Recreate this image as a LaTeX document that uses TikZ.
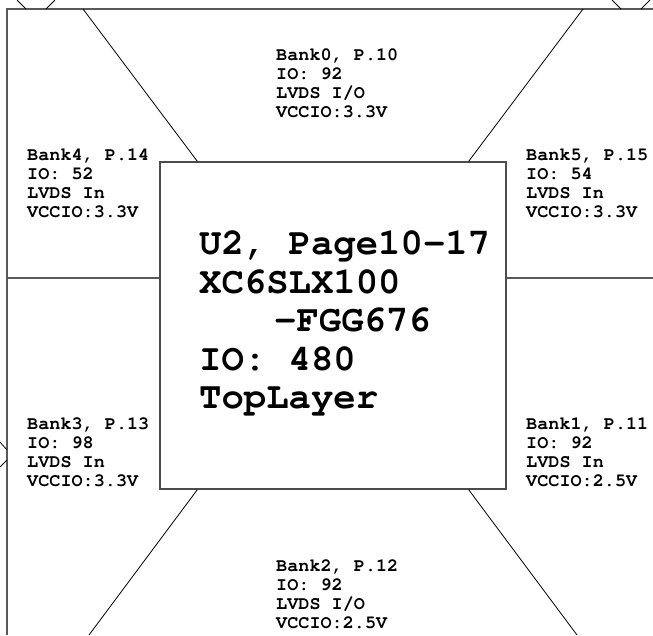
\documentclass[tikz,border=0pt]{standalone}
\usepackage[T1]{fontenc}
\usepackage{courier}
\tikzset{
  frameline/.style={draw=black!65,line width=1.8pt},
  diagline/.style={draw=black,line width=0.8pt},
  chipbox/.style={draw=black!70,line width=1.3pt,inner sep=0pt,
    minimum width=346pt,minimum height=327pt},
  bank/.style={anchor=north west,inner sep=0pt,align=left,
    font=\ttfamily\bfseries\fontsize{18.5}{18.8}\selectfont},
  chiptext/.style={anchor=north west,inner sep=0pt,align=left,
    font=\ttfamily\bfseries\fontsize{37.3}{38.5}\selectfont},
}
\begin{document}
\begin{tikzpicture}[x=1pt,y=-1pt]
  \useasboundingbox (0,0) rectangle (653,635);
  % frame of the board
  \coordinate (fbl) at (7,635);
  \coordinate (ftl) at (7,9);
  \coordinate (ftr) at (653,9);
  \draw[frameline] (fbl) -- (ftl) -- (ftr);
  % stubs of the neighbours
  \draw[diagline] (17,0) -- (26,9);
  \draw[diagline] (46,9) -- (55,0);
  \draw[diagline] (612,0) -- (621,9);
  \draw[diagline] (641,9) -- (650,0);
  \draw[diagline] (0,442) -- (7,450);
  \draw[diagline] (7,460) -- (0,467);
  % the chip
  \node[chipbox] (chip) at (333,325.5) {};
  \node[chiptext] (u2) at (199,231) {U2, Page10-17\\XC6SLX100\\\hspace*{75pt}-FGG676\\IO: 480\\TopLayer};
  % split into banks
  \coordinate (wmid) at (7,277.7);
  \coordinate (emid) at (653,277.7);
  \draw[frameline] (wmid) -- (wmid -| chip.west);
  \draw[frameline] (chip.east |- emid) -- (emid);
  \coordinate (dnw) at (83,9);
  \coordinate (dne) at (583,9);
  \coordinate (dsw) at (89,635);
  \coordinate (dse) at (577,635);
  \draw[diagline] (dnw) -- ([xshift=38pt]chip.north west);
  \draw[diagline] (dne) -- ([xshift=-38pt]chip.north east);
  \draw[diagline] (dsw) -- ([xshift=38pt]chip.south west);
  \draw[diagline] (dse) -- ([xshift=-38pt]chip.south east);
  % bank labels
  \node[bank] (bank0) at (276,49) {Bank0, P.10\\IO: 92\\LVDS I/O\\VCCIO:3.3V};
  \node[bank] (bank4) at (27,149) {Bank4, P.14\\IO: 52\\LVDS In\\VCCIO:3.3V};
  \node[bank] (bank5) at (526,149) {Bank5, P.15\\IO: 54\\LVDS In\\VCCIO:3.3V};
  \node[bank] (bank3) at (27,418) {Bank3, P.13\\IO: 98\\LVDS In\\VCCIO:3.3V};
  \node[bank] (bank1) at (526,418) {Bank1, P.11\\IO: 92\\LVDS In\\VCCIO:2.5V};
  \node[bank] (bank2) at (276,560) {Bank2, P.12\\IO: 92\\LVDS I/O\\VCCIO:2.5V};
\end{tikzpicture}
\end{document}
